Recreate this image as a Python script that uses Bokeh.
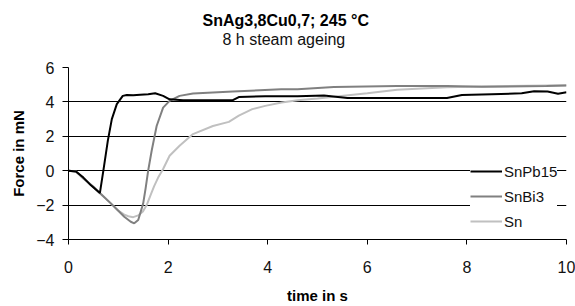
from bokeh.plotting import figure
from bokeh.models import Range1d, FixedTicker, Legend, LegendItem, Title
from bokeh.embed import file_html
from bokeh.resources import INLINE

title_text = "SnAg3,8Cu0,7; 245 °C"
subtitle_text = "8 h steam ageing"
x_label = "time in s"
y_label = "Force in mN"
x_ticks = [0, 2, 4, 6, 8, 10]
y_ticks = [-4, -2, 0, 2, 4, 6]

t_snpb15 = [0, 0.15, 0.3, 0.45, 0.63, 0.7, 0.79, 0.87, 0.97, 1.09, 1.17, 1.3, 1.44, 1.6, 1.74,
            1.9, 2.03, 2.3, 2.63, 3.3, 3.42, 3.95, 4.6, 5.13, 5.6, 7.6, 7.9, 8.5, 9.1, 9.35,
            9.62, 9.83, 10]
f_snpb15 = [0, -0.05, -0.4, -0.85, -1.3, 0, 1.75, 3.0, 3.87, 4.35, 4.4, 4.38, 4.42, 4.45, 4.5,
            4.35, 4.15, 4.1, 4.1, 4.1, 4.28, 4.33, 4.33, 4.37, 4.23, 4.23, 4.4, 4.45, 4.5, 4.62,
            4.6, 4.48, 4.56]

t_snbi3 = [0, 0.15, 0.3, 0.5, 0.65, 0.85, 0.99, 1.12, 1.25, 1.32, 1.4, 1.5, 1.55, 1.6, 1.67,
           1.77, 1.9, 2.03, 2.23, 2.5, 3.3, 4.27, 4.6, 5.33, 6.6, 7.6, 8.3, 9.6, 10]
f_snbi3 = [0, -0.05, -0.45, -0.93, -1.35, -1.9, -2.3, -2.68, -2.97, -3.06, -2.87, -1.9, -1.0,
           0, 1.16, 2.6, 3.67, 4.06, 4.35, 4.49, 4.6, 4.73, 4.74, 4.86, 4.92, 4.92, 4.88, 4.92,
           4.96]

t_sn = [0, 0.15, 0.3, 0.5, 0.65, 0.85, 0.99, 1.12, 1.2, 1.3, 1.4, 1.5, 1.57, 1.65, 1.72, 1.8,
        1.9, 2.03, 2.23, 2.5, 2.9, 3.22, 3.42, 3.69, 3.95, 4.28, 4.6, 5.0, 6.0, 6.6, 7.6, 8.3, 10]
f_sn = [0, -0.05, -0.45, -0.93, -1.35, -1.9, -2.3, -2.55, -2.65, -2.7, -2.6, -2.35, -2.0, -1.4,
        -0.9, -0.4, 0.1, 0.87, 1.45, 2.13, 2.6, 2.84, 3.2, 3.58, 3.77, 3.96, 4.1, 4.2, 4.5, 4.7,
        4.85, 4.9, 4.97]

FONT = "Liberation Sans"

p = figure(width=575, height=306, output_backend="svg", toolbar_location=None,
           x_range=Range1d(0, 10), y_range=Range1d(-4, 6),
           min_border_left=68, min_border_right=9, min_border_top=67, min_border_bottom=66)
p.outline_line_color = None
p.background_fill_color = "white"
p.border_fill_color = "white"

p.xgrid.visible = False
p.ygrid.ticker = FixedTicker(ticks=y_ticks)
p.ygrid.grid_line_color = "black"
p.ygrid.grid_line_alpha = 1.0
p.ygrid.grid_line_width = 1

for ax in (p.xaxis[0], p.yaxis[0]):
    ax.axis_line_color = "black"
    ax.major_tick_line_color = "black"
    ax.minor_tick_line_color = None
    ax.major_tick_in = 0
    ax.major_label_text_font = FONT
    ax.major_label_text_font_size = "16px"
    ax.major_label_text_color = "#111111"
    ax.axis_label_text_font = FONT
    ax.axis_label_text_font_style = "bold"
    ax.axis_label_text_font_size = "15px"
    ax.axis_label_text_color = "black"

p.xaxis.ticker = FixedTicker(ticks=x_ticks)
p.yaxis.ticker = FixedTicker(ticks=y_ticks)
p.xaxis.major_tick_out = 5
p.yaxis.major_tick_out = 6
p.xaxis.major_label_standoff = 16
p.yaxis.major_label_standoff = 8
p.xaxis.axis_label = x_label
p.yaxis.axis_label = y_label
p.xaxis.axis_label_standoff = 11
p.yaxis.axis_label_standoff = 6

r_sn = p.line(t_sn, f_sn, line_color="#c0c0c0", line_width=2)
r_bi = p.line(t_snbi3, f_snbi3, line_color="#808080", line_width=2)
r_pb = p.line(t_snpb15, f_snpb15, line_color="black", line_width=2)

legend = Legend(items=[LegendItem(label="SnPb15", renderers=[r_pb]),
                       LegendItem(label="SnBi3", renderers=[r_bi]),
                       LegendItem(label="Sn", renderers=[r_sn])],
                location=(402, 8))
legend.background_fill_color = "white"
legend.background_fill_alpha = 1.0
legend.border_line_color = None
legend.padding = 4
legend.spacing = 5
legend.glyph_width = 32
legend.glyph_height = 20
legend.label_height = 20
legend.label_standoff = 2
legend.label_text_font = FONT
legend.label_text_font_size = "15px"
legend.label_text_color = "#111111"
legend.margin = 0
p.add_layout(legend)

# blank spacer panel between plot frame and subtitle
p.add_layout(Title(text=" ", standoff=4, text_font=FONT, text_font_size="12px",
                   text_color="white"), "above")
p.add_layout(Title(text=subtitle_text, align="left", offset=154, standoff=0,
                   text_font=FONT, text_font_size="16px", text_font_style="normal",
                   text_color="#111111"), "above")
p.add_layout(Title(text=title_text, align="left", offset=134, standoff=0,
                   text_font=FONT, text_font_size="16px", text_font_style="bold",
                   text_color="black"), "above")

open("out.html", "w").write(file_html(p, INLINE))
